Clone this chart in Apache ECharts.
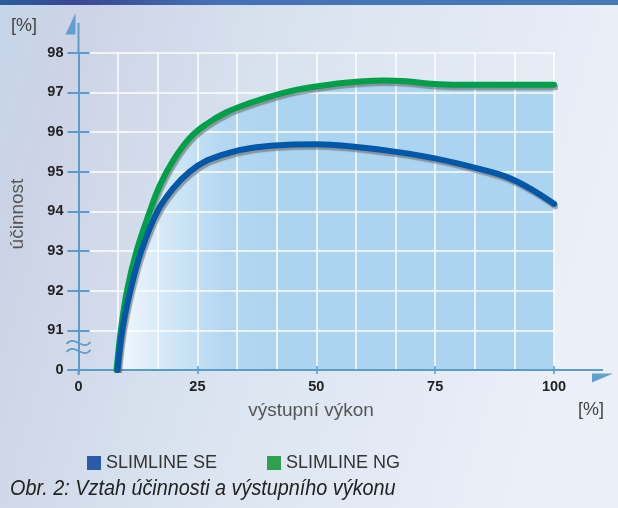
<!DOCTYPE html>
<html><head><meta charset="utf-8">
<script src="https://cdn.jsdelivr.net/npm/echarts@6/dist/echarts.min.js"></script>
<style>html,body{margin:0;padding:0;width:618px;height:508px;overflow:hidden;background:#dde6f1}#c{width:618px;height:508px}</style>
</head><body><div id="c"></div>
<script>
// ---- data ----
const xTickValues = [0, 25, 50, 75, 100];
const yTickValues = [90, 91, 92, 93, 94, 95, 96, 97, 98];
const yTickLabels = ['0', '91', '92', '93', '94', '95', '96', '97', '98'];
const seriesNames = ['SLIMLINE SE', 'SLIMLINE NG'];
const seX = [8.2, 9.2, 10.9, 13.2, 16.6, 19.9, 23.4, 27, 31.8, 37, 44, 50, 57, 66.8, 75.2, 83.7, 90, 94.9, 100];
const seY = [90.0, 91.0, 92.0, 93.0, 94.0, 94.58, 95.0, 95.28, 95.48, 95.61, 95.68, 95.69, 95.64, 95.5, 95.33, 95.09, 94.87, 94.58, 94.19];
const ngX = [8.0, 8.9, 10.2, 12.2, 15.0, 17.2, 20.0, 23.4, 26.9, 31.1, 36, 41, 46, 53, 60, 64, 69, 74, 80, 90, 100];
const ngY = [90.0, 91.0, 92.0, 93.0, 94.0, 94.68, 95.3, 95.85, 96.2, 96.5, 96.73, 96.92, 97.07, 97.2, 97.28, 97.3, 97.28, 97.22, 97.19, 97.19, 97.19];
const xTitle = 'výstupní výkon';
const yTitle = 'účinnost';
const unitLabel = '[%]';
const caption = 'Obr. 2: Vztah účinnosti a výstupního výkonu';

(function () {
const AX = '#5b9ccb';
const FONT = "'Liberation Sans', Arial, sans-serif";
const seColor = '#0258a8', ngColor = '#00a04b';
const seLegend = '#2a5aa8', ngLegend = '#2ea04f';
const pair = (xs, ys) => xs.map((x, i) => [x, ys[i]]);
const SMOOTH = 0.4;

const chart = echarts.init(document.getElementById('c'), null, {renderer: 'canvas'});
const lineShadow = {shadowColor: 'rgba(105,105,105,0.6)', shadowOffsetX: 1.5, shadowOffsetY: 2.5, shadowBlur: 1};

const xBase = {type: 'value', min: xTickValues[0], max: xTickValues[xTickValues.length - 1], interval: 25, z: 3};
const yBase = {type: 'value', min: yTickValues[0], max: yTickValues[yTickValues.length - 1], interval: 1, z: 3};

chart.setOption({
  animation: false,
  grid: {left: 78.5, right: 64, top: 52.7, bottom: 138, containLabel: false},
  legend: [
    {data: [{name: seriesNames[0], itemStyle: {color: seLegend}}], left: 82, top: 449, icon: 'rect', itemWidth: 14, itemHeight: 14,
     textStyle: {fontSize: 18, color: '#333', fontFamily: FONT}, selectedMode: false},
    {data: [{name: seriesNames[1], itemStyle: {color: ngLegend}}], left: 262, top: 449, icon: 'rect', itemWidth: 14, itemHeight: 14,
     textStyle: {fontSize: 18, color: '#333', fontFamily: FONT}, selectedMode: false}
  ],
  xAxis: [
    Object.assign({}, xBase, {
      position: 'bottom',
      axisLine: {show: true, onZero: false, lineStyle: {color: AX, width: 2}},
      axisTick: {show: true, length: 4, lineStyle: {color: AX, width: 1.5}},
      axisLabel: {margin: 9, fontSize: 14.5, fontWeight: 'bold', color: '#222', fontFamily: FONT},
      splitLine: {show: true, lineStyle: {color: 'rgba(255,255,255,0.95)', width: 1.5}},
      minorTick: {show: false, splitNumber: 3},
      minorSplitLine: {show: true, lineStyle: {color: 'rgba(255,255,255,0.95)', width: 1.5}}
    }),
    Object.assign({}, xBase, {
      position: 'bottom',
      axisLine: {show: false}, axisLabel: {show: false}, splitLine: {show: false},
      axisTick: {show: true, inside: true, length: 4, lineStyle: {color: AX, width: 1.5}}
    })
  ],
  yAxis: [
    Object.assign({}, yBase, {
      position: 'left',
      axisLine: {show: true, onZero: false, lineStyle: {color: AX, width: 2}},
      axisTick: {show: true, length: 11, lineStyle: {color: AX, width: 2}},
      axisLabel: {margin: 15, fontSize: 14.5, fontWeight: 'bold', color: '#222', fontFamily: FONT,
        formatter: v => yTickLabels[yTickValues.indexOf(v)]},
      splitLine: {show: true, lineStyle: {color: 'rgba(255,255,255,0.95)', width: 1.5}}
    }),
    Object.assign({}, yBase, {
      position: 'left',
      axisLine: {show: false}, axisLabel: {show: false}, splitLine: {show: false},
      axisTick: {show: true, inside: true, length: 11, lineStyle: {color: AX, width: 2}}
    })
  ],
  series: [
    {name: 'fill', type: 'line', data: pair(ngX, ngY), smooth: SMOOTH, showSymbol: false, silent: true,
     z: 2, lineStyle: {width: 0, opacity: 0},
     areaStyle: {origin: 'start', opacity: 1, color: new echarts.graphic.LinearGradient(0, 0, 1, 0, [
       {offset: 0, color: '#f2f9fe'}, {offset: 0.1, color: '#d6eaf8'}, {offset: 0.25, color: '#b3d7f0'},
       {offset: 0.4, color: '#acd3ef'}, {offset: 1, color: '#acd3ef'}])}},
    {name: seriesNames[1], type: 'line', data: pair(ngX, ngY), smooth: SMOOTH, showSymbol: false, z: 5,
     itemStyle: {color: ngColor}, lineStyle: Object.assign({color: ngColor, width: 6, cap: 'round', join: 'round'}, lineShadow)},
    {name: seriesNames[0], type: 'line', data: pair(seX, seY), smooth: SMOOTH, showSymbol: false, z: 6,
     itemStyle: {color: seColor}, lineStyle: Object.assign({color: seColor, width: 6, cap: 'round', join: 'round'}, lineShadow)}
  ]
});

const o = chart.convertToPixel({gridIndex: 0}, [xBase.min, yBase.min]);
const m = chart.convertToPixel({gridIndex: 0}, [xBase.max, yBase.max]);
const ax = o[0], ay = o[1], gRight = m[0], gTop = m[1];
const b1 = chart.convertToPixel({gridIndex: 0}, [0, 90.68])[1];
const b2 = chart.convertToPixel({gridIndex: 0}, [0, 90.48])[1];
const wave = (y) => ({type: 'bezierCurve', z: 10, silent: true,
  shape: {x1: ax - 12, y1: y + 1, cpx1: ax - 4, cpy1: y - 9, cpx2: ax + 4, cpy2: y + 9, x2: ax + 12, y2: y - 1},
  style: {stroke: AX, lineWidth: 1.8, fill: null}});

chart.setOption({
  graphic: [
    {type: 'rect', z: -20, silent: true, shape: {x: 0, y: 0, width: 618, height: 508},
     style: {fill: new echarts.graphic.LinearGradient(0, 0, 1, 0.35, [
       {offset: 0, color: '#c4d6ea'}, {offset: 0.12, color: '#cdd3e6'}, {offset: 0.45, color: '#d9e3ef'}, {offset: 1, color: '#ebeff8'}])}},
    {type: 'rect', z: -19, silent: true, shape: {x: 0, y: 0, width: 618, height: 5},
     style: {fill: new echarts.graphic.LinearGradient(0, 0, 1, 0, [
       {offset: 0, color: '#2d5d9d'}, {offset: 0.12, color: '#3a4690'}, {offset: 0.35, color: '#4472b5'}, {offset: 1, color: '#4a79b6'}])}},
    {type: 'line', z: 10, silent: true, shape: {x1: ax, y1: 23, x2: ax, y2: gTop}, style: {stroke: AX, lineWidth: 2}},
    {type: 'line', z: 10, silent: true, shape: {x1: ax, y1: ay, x2: ax, y2: ay + 5}, style: {stroke: AX, lineWidth: 2}},
    {type: 'line', z: 10, silent: true, shape: {x1: ax - 11, y1: ay, x2: ax, y2: ay}, style: {stroke: AX, lineWidth: 2}},
    {type: 'line', z: 10, silent: true, shape: {x1: gRight, y1: ay, x2: gRight + 49, y2: ay}, style: {stroke: AX, lineWidth: 2}},
    {type: 'polygon', z: 10, silent: true, shape: {points: [[ax - 13, 34.5], [ax - 3, 34.5], [ax - 3, 13]]}, style: {fill: '#5fa0d0'}},
    {type: 'polygon', z: 10, silent: true, shape: {points: [[gRight + 38, ay + 3.5], [gRight + 59, ay + 3.5], [gRight + 38, ay + 12.5]]}, style: {fill: '#5fa0d0'}},
    wave(b1),
    wave(b2),
    {type: 'text', z: 10, silent: true, x: 11, y: 17, style: {text: unitLabel, fontSize: 18, fill: '#444', fontFamily: FONT}},
    {type: 'text', z: 10, silent: true, x: 18, y: 214, rotation: Math.PI / 2,
     style: {text: yTitle, fontSize: 19, fill: '#555', fontFamily: FONT, align: 'center', verticalAlign: 'middle'}},
    {type: 'text', z: 10, silent: true, x: 311, y: 411,
     style: {text: xTitle, fontSize: 19, fill: '#555', fontFamily: FONT, align: 'center', verticalAlign: 'middle'}},
    {type: 'text', z: 10, silent: true, x: 604, y: 410,
     style: {text: unitLabel, fontSize: 18, fill: '#444', fontFamily: FONT, align: 'right', verticalAlign: 'middle'}},
    {type: 'text', z: 10, silent: true, x: 10, y: 489, scaleX: 0.9,
     style: {text: caption, fontSize: 22, fontStyle: 'italic', fill: '#222',
       fontFamily: FONT, align: 'left', verticalAlign: 'middle'}}
  ]
});
})();
</script>
</body></html>
